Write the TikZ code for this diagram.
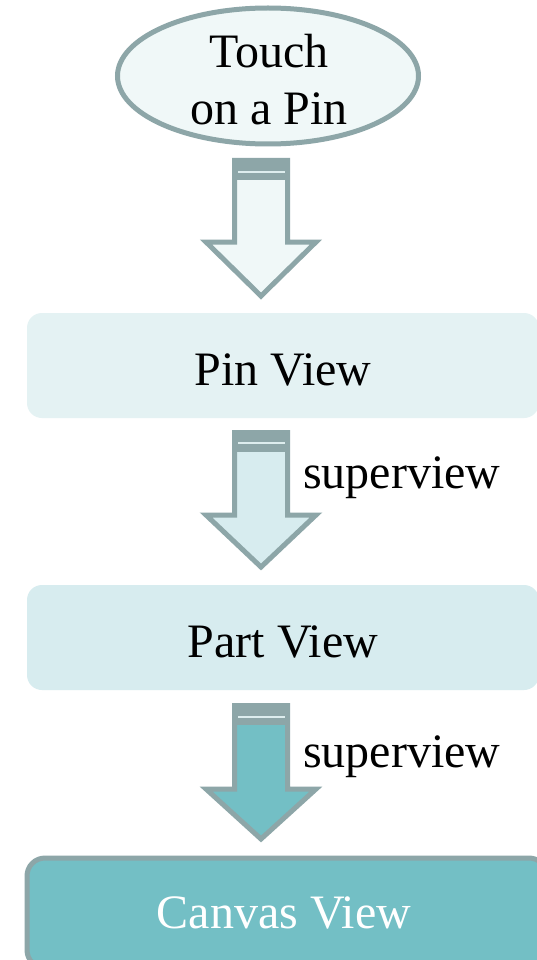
\documentclass[tikz,border=0pt]{standalone}
\usepackage{fontspec}
\setmainfont{Liberation Serif}
\usetikzlibrary{shapes.geometric}
\definecolor{edgegray}{HTML}{8DA6A8}
\definecolor{palest}{HTML}{F0F8F8}
\definecolor{pinfill}{HTML}{E4F2F3}
\definecolor{partfill}{HTML}{D7ECEF}
\definecolor{canvasfill}{HTML}{73BFC5}
\definecolor{stripe}{HTML}{DDEDEE}
\tikzset{
  txt/.style={font=\fontsize{48}{57}\selectfont, inner sep=0pt, anchor=base},
  viewbox/.style={rectangle, rounded corners=15pt, minimum width=512pt, minimum height=105pt, inner sep=0pt},
  arrowbody/.style={draw=edgegray, line width=5pt, line join=miter, miter limit=10},
}
% block arrow: #1 top, #2 end of band, #3 stripe, #4 head start, #5 tip, #6 fill
\newcommand\flowarrow[6]{%
  \draw[arrowbody, fill=#6] (234.5,#1) -- (287.5,#1) -- (287.5,#4) -- (316,#4)
    -- (261,#5) -- (206,#4) -- (234.5,#4) -- cycle;
  \fill[edgegray] (232,#1-2.5) rectangle (290,#2);
  \draw[stripe, line width=1.5pt] (238,#3) -- (285,#3);
}
\begin{document}
\begin{tikzpicture}[x=1pt, y=-1pt]
  \useasboundingbox (0,0) rectangle (537,960);
  \clip (0,0) rectangle (537,960);
  \fill[white] (0,0) rectangle (537,960);

  % start event
  \node[ellipse, draw=edgegray, line width=5pt, fill=palest,
        minimum width=301pt, minimum height=136pt, inner sep=0pt] (touch) at (268,76) {};
  \node[txt] (touch1) at (269,68) {Touch};
  \node[txt] (touch2) at (269,125) {on a Pin};

  \flowarrow{160.5}{180}{172}{242}{296}{palest}

  % view hierarchy
  \node[viewbox, fill=pinfill] (pin) at (283,365.5) {};
  \node[txt] (pintext) at (283,385) {Pin View};

  \flowarrow{432.5}{452}{443}{515}{567}{partfill}
  \node[txt, anchor=base west] (sv1) at (303,488) {superview};

  \node[viewbox, fill=partfill] (part) at (283,637.5) {};
  \node[txt] (parttext) at (283,657) {Part View};

  \flowarrow{705.5}{725}{717}{789}{839}{canvasfill}
  \node[txt, anchor=base west] (sv2) at (303,767) {superview};

  \node[viewbox, draw=edgegray, line width=5pt, fill=canvasfill,
        rounded corners=18pt, minimum width=520pt, minimum height=110pt] (canvas) at (287,913) {};
  \node[txt, text=white] (canvastext) at (284,928) {Canvas View};
\end{tikzpicture}
\end{document}
